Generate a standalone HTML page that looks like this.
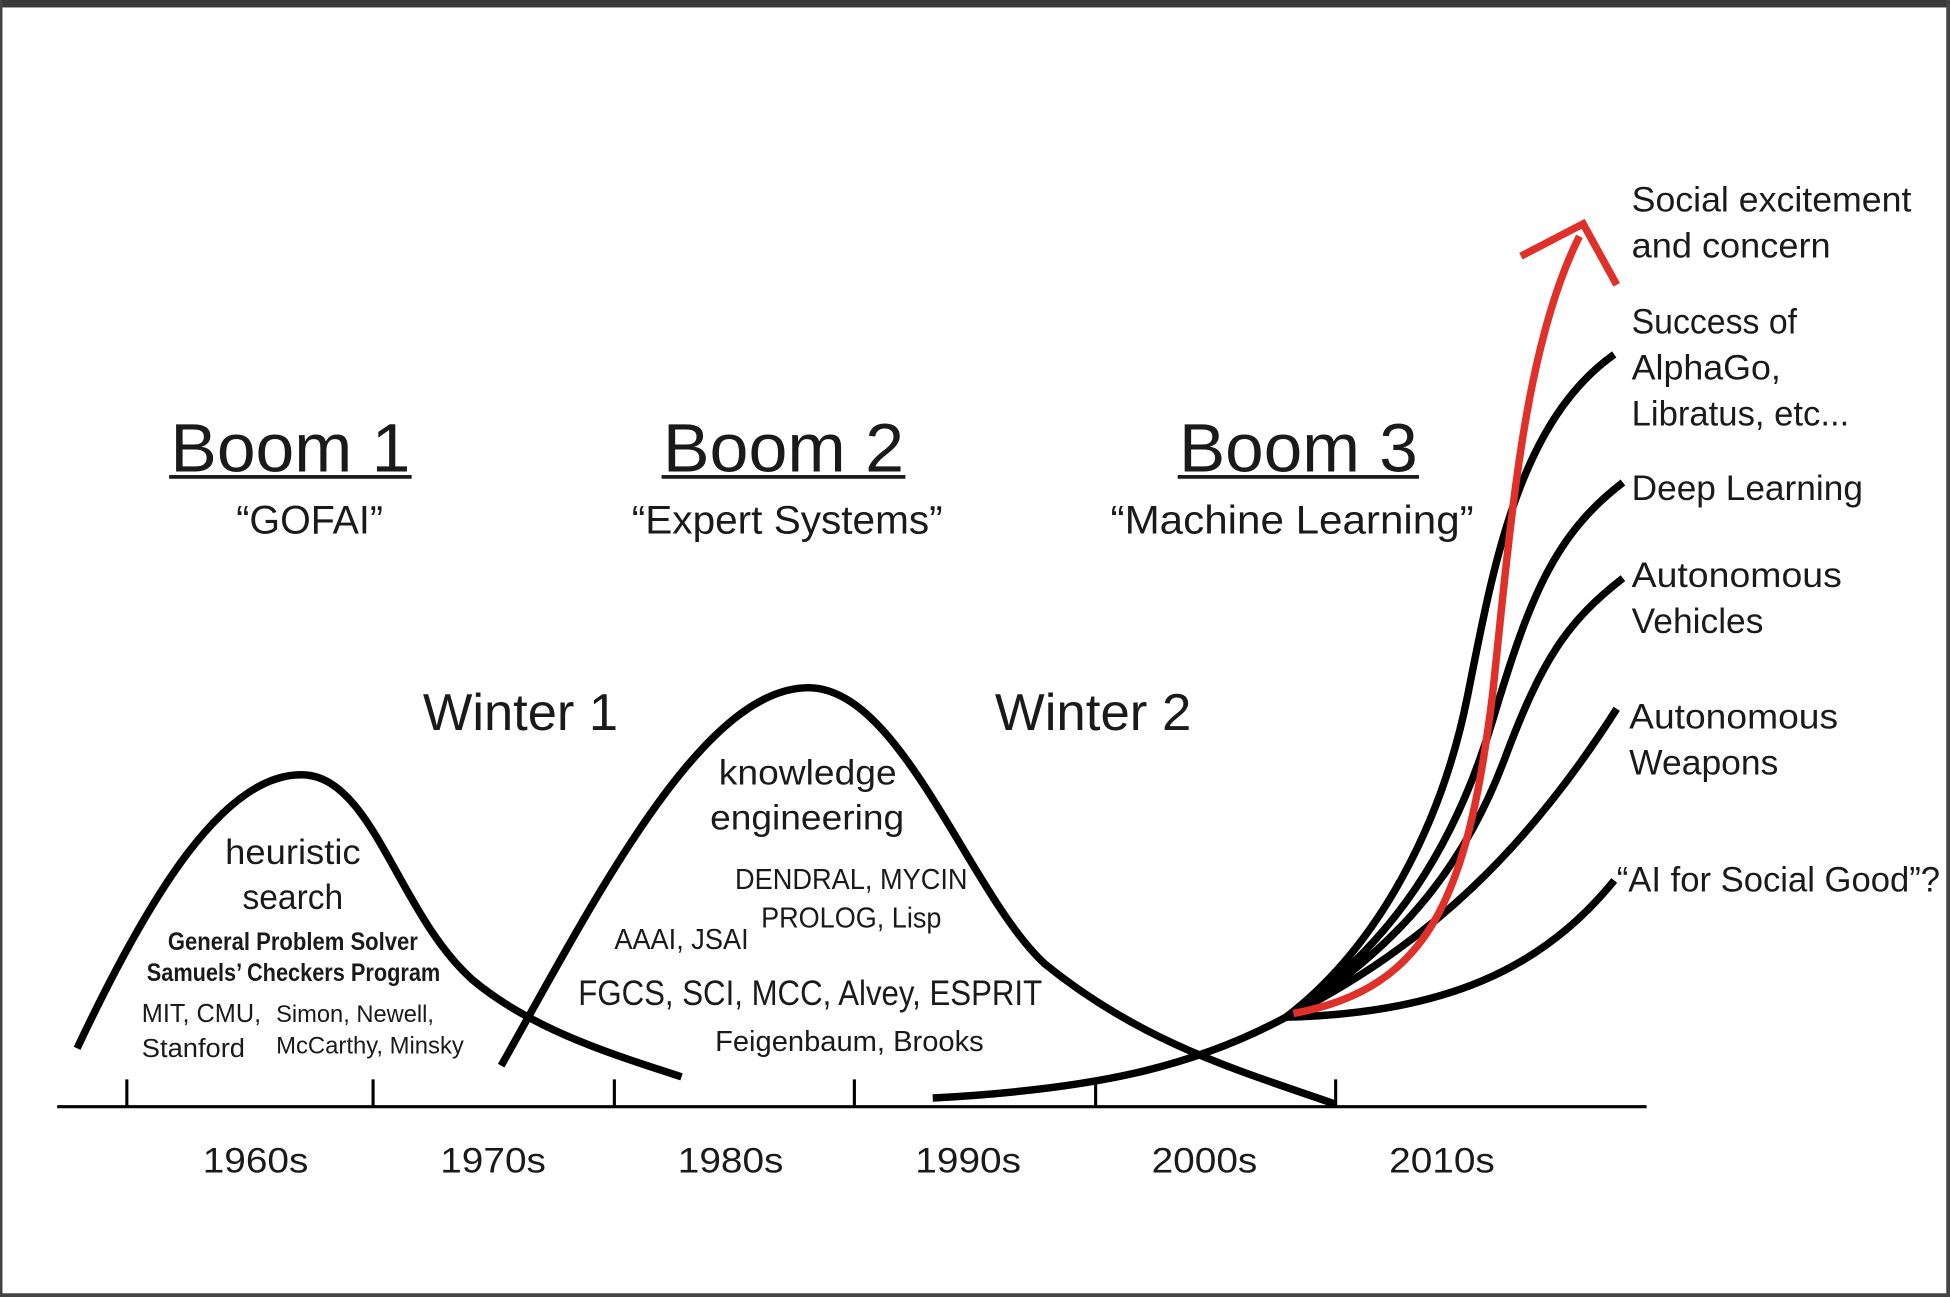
<!DOCTYPE html>
<html><head><meta charset="utf-8"><style>
html,body{margin:0;padding:0;background:#fff;}
svg{display:block;}
text{font-family:"Liberation Sans",sans-serif;fill:#1a1a1a;}
</style></head><body>
<svg width="1950" height="1297" viewBox="0 0 1568 1043" preserveAspectRatio="none" xmlns="http://www.w3.org/2000/svg">
<rect x="0" y="0" width="1568" height="1043" fill="#fff"/>
<rect x="0" y="0" width="1568" height="6" fill="#3a3a3a"/>
<rect x="0" y="0" width="2" height="1043" fill="#444"/>
<rect x="1565" y="0" width="3" height="1043" fill="#444"/>
<rect x="0" y="1040" width="1568" height="3" fill="#444"/>
<g stroke="#000" fill="none" stroke-linecap="butt">
<line x1="46" y1="890" x2="1324" y2="890" stroke-width="2.5"/>
<g stroke-width="2.5">
<line x1="102" y1="868" x2="102" y2="890"/><line x1="300" y1="868" x2="300" y2="890"/>
<line x1="494" y1="868" x2="494" y2="890"/><line x1="687" y1="868" x2="687" y2="890"/>
<line x1="881" y1="868" x2="881" y2="890"/><line x1="1074" y1="868" x2="1074" y2="890"/>
</g>
<g stroke-width="6">
<path d="M62,843 C120,720 180,622 243,623 C300,624 320,735 380,788 C430,830 500,850 548,866"/>
<path d="M403,857 C480,720 565,553 650,553 C725,553 780,720 840,775 C920,840 1000,862 1074,888"/>
<path d="M750,883 C880,876 960,858 1034,818"/>
<path d="M1034,818 C1110,760 1160,660 1180,560 C1200,460 1220,340 1298,285"/>
<path d="M1034,818 C1120,760 1170,680 1200,580 C1230,480 1250,430 1305,388"/>
<path d="M1034,818 C1130,760 1180,690 1210,610 C1240,530 1260,500 1305,465"/>
<path d="M1034,818 C1150,760 1230,680 1300,570"/>
<path d="M1034,818 C1160,815 1240,780 1298,708"/>
</g>
<path d="M1040,815 C1150,795 1180,720 1200,560 C1215,420 1225,280 1270,190" stroke="#e0302a" stroke-width="6"/>
<path d="M1223,206 L1273,180 L1300,229" stroke="#e0302a" stroke-width="6" stroke-linejoin="miter"/>
</g>
<g font-size="55">
<text x="137" y="379" textLength="193" lengthAdjust="spacingAndGlyphs">Boom 1</text>
<text x="533" y="379" textLength="194" lengthAdjust="spacingAndGlyphs">Boom 2</text>
<text x="948" y="379" textLength="192" lengthAdjust="spacingAndGlyphs">Boom 3</text>
</g>
<g fill="#1a1a1a"><rect x="136" y="382" width="195" height="3"/><rect x="532" y="382" width="196" height="3"/><rect x="947" y="382" width="194" height="3"/></g>
<g font-size="32">
<text x="190" y="429" textLength="118" lengthAdjust="spacingAndGlyphs">“GOFAI”</text>
<text x="508" y="429" textLength="250" lengthAdjust="spacingAndGlyphs">“Expert Systems”</text>
<text x="893" y="429" textLength="292" lengthAdjust="spacingAndGlyphs">“Machine Learning”</text>
</g>
<g font-size="42">
<text x="340" y="587" textLength="157" lengthAdjust="spacingAndGlyphs">Winter 1</text>
<text x="800" y="587" textLength="158" lengthAdjust="spacingAndGlyphs">Winter 2</text>
</g>
<g font-size="28">
<text x="1312" y="170" textLength="225" lengthAdjust="spacingAndGlyphs">Social excitement</text>
<text x="1312" y="207" textLength="160" lengthAdjust="spacingAndGlyphs">and concern</text>
<text x="1312" y="268" textLength="133" lengthAdjust="spacingAndGlyphs">Success of</text>
<text x="1312" y="305" textLength="120" lengthAdjust="spacingAndGlyphs">AlphaGo,</text>
<text x="1312" y="342" textLength="175" lengthAdjust="spacingAndGlyphs">Libratus, etc...</text>
<text x="1312" y="402" textLength="186" lengthAdjust="spacingAndGlyphs">Deep Learning</text>
<text x="1312" y="472" textLength="169" lengthAdjust="spacingAndGlyphs">Autonomous</text>
<text x="1312" y="509" textLength="106" lengthAdjust="spacingAndGlyphs">Vehicles</text>
<text x="1310" y="586" textLength="168" lengthAdjust="spacingAndGlyphs">Autonomous</text>
<text x="1310" y="623" textLength="120" lengthAdjust="spacingAndGlyphs">Weapons</text>
<text x="1300" y="717" textLength="260" lengthAdjust="spacingAndGlyphs">“AI for Social Good”?</text>
<text x="181" y="695" textLength="109" lengthAdjust="spacingAndGlyphs">heuristic</text>
<text x="195" y="731" textLength="81" lengthAdjust="spacingAndGlyphs">search</text>
<text x="578" y="631" textLength="143" lengthAdjust="spacingAndGlyphs">knowledge</text>
<text x="571" y="667" textLength="156" lengthAdjust="spacingAndGlyphs">engineering</text>
<text x="465" y="808" textLength="373" lengthAdjust="spacingAndGlyphs">FGCS, SCI, MCC, Alvey, ESPRIT</text>
<text x="163" y="943" textLength="85" lengthAdjust="spacingAndGlyphs">1960s</text>
<text x="354" y="943" textLength="85" lengthAdjust="spacingAndGlyphs">1970s</text>
<text x="545" y="943" textLength="85" lengthAdjust="spacingAndGlyphs">1980s</text>
<text x="736" y="943" textLength="85" lengthAdjust="spacingAndGlyphs">1990s</text>
<text x="926" y="943" textLength="85" lengthAdjust="spacingAndGlyphs">2000s</text>
<text x="1117" y="943" textLength="85" lengthAdjust="spacingAndGlyphs">2010s</text>
</g>
<g font-size="20" font-weight="bold">
<text x="135" y="764" textLength="201" lengthAdjust="spacingAndGlyphs">General Problem Solver</text>
<text x="118" y="789" textLength="236" lengthAdjust="spacingAndGlyphs">Samuels’ Checkers Program</text>
</g>
<g font-size="21">
<text x="114" y="822" textLength="96" lengthAdjust="spacingAndGlyphs">MIT, CMU,</text>
<text x="114" y="850" textLength="83" lengthAdjust="spacingAndGlyphs">Stanford</text>
</g>
<g font-size="19">
<text x="222" y="822" textLength="127" lengthAdjust="spacingAndGlyphs">Simon, Newell,</text>
<text x="222" y="847" textLength="151" lengthAdjust="spacingAndGlyphs">McCarthy, Minsky</text>
</g>
<g font-size="23">
<text x="591" y="715" textLength="187" lengthAdjust="spacingAndGlyphs">DENDRAL, MYCIN</text>
<text x="612" y="746" textLength="145" lengthAdjust="spacingAndGlyphs">PROLOG, Lisp</text>
<text x="494" y="763" textLength="108" lengthAdjust="spacingAndGlyphs">AAAI, JSAI</text>
<text x="575" y="845" textLength="216" lengthAdjust="spacingAndGlyphs">Feigenbaum, Brooks</text>
</g>
</svg>
</body></html>
